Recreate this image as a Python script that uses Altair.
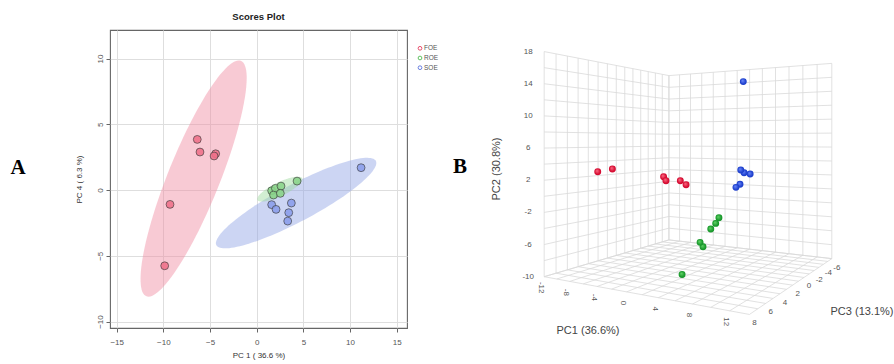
import math
import numpy as np
import pandas as pd
import altair as alt

# ---------------- data ----------------
GROUPS = ["FOE", "ROE", "SOE"]

# one entry per sample, same sample order in every list of a group
FOE_PC1 = [-6.37, -6.08, -4.40, -4.57, -9.29, -9.86]
FOE_PC4 = [3.85, 2.89, 2.76, 2.59, -1.09, -5.76]
FOE_PC2 = [1.61, 1.02, 0.31, 0.99, 3.03, 2.75]
FOE_PC3 = [-0.73, -0.81, -2.16, -1.50, 3.20, 4.35]

ROE_PC1 = [1.60, 2.00, 1.80, 2.60, 2.53, 4.32]
ROE_PC4 = [-0.05, 0.13, -0.38, 0.30, -0.25, 0.68]
ROE_PC2 = [-9.79, -7.08, -6.45, -4.26, -4.85, -3.04]
ROE_PC3 = [3.54, 1.29, 1.49, 0.13, 0.75, 1.40]

SOE_PC1 = [1.60, 2.07, 3.71, 3.43, 3.32, 11.18]
SOE_PC4 = [-1.11, -1.47, -0.99, -1.72, -2.36, 1.70]
SOE_PC2 = [-0.08, 0.37, 1.98, 2.24, 2.68, 13.33]
SOE_PC3 = [-4.04, -4.21, -4.10, -3.38, -2.95, 5.51]

A_X_TICKS = [-15, -10, -5, 0, 5, 10, 15]
A_Y_TICKS = [-10, -5, 0, 5, 10]

B_PC1_RANGE = [-12, 14]
B_PC2_RANGE = [-10, 18]
B_PC3_RANGE = [-6, 8]
B_PC1_TICKS = [-12, -8, -4, 0, 4, 8, 12]
B_PC2_TICKS = [-10, -6, -2, 2, 6, 10, 14, 18]
B_PC3_TICKS = [-6, -4, -2, 0, 2, 4, 6, 8]
B_PC1_GRID = list(range(-12, 15, 2))
B_PC2_GRID = list(range(-10, 19, 2))
B_PC3_GRID = list(range(-6, 9, 1))

# ---------------- layout / style ----------------
FONT = "Liberation Sans"
PLOT_LEFT, PLOT_TOP, PLOT_W, PLOT_H = 110, 30, 297, 298
TOTAL_W, TOTAL_H = 894, 364
A_XDOM = [-15.72, 16.1]
A_YDOM = [-10.49, 12.17]
LEG_X, LEG_Y0, LEG_DY = 420, 48.3, 9.7

PT_FILL = ["#ee7089", "#8ad48a", "#8a9deb"]
LEG_STROKE = ["#e8506e", "#62c262", "#6a80e0"]
ELL_FILL = ["#f08aa0", "#9bd99b", "#8ea2e4"]
BALL_BASE = ["#d40a30", "#17962a", "#1c3ecb"]
BALL_HI = ["#ff7088", "#66d86a", "#6f8cff"]

# 3-D view (camera) of panel B
CAM_DIST = 2.51
CAM_AZ = math.radians(59.6)
CAM_EYE_Z = 0.605
FOCAL = 524.9
CENTER_X = 698.2
HORIZON_Y = 140.5


def project(pc1, pc2, pc3):
    X = (pc1 - B_PC1_RANGE[0]) / (B_PC1_RANGE[1] - B_PC1_RANGE[0]) - 0.5
    Y = (pc3 - B_PC3_RANGE[0]) / (B_PC3_RANGE[1] - B_PC3_RANGE[0]) - 0.5
    Z = (pc2 - B_PC2_RANGE[0]) / (B_PC2_RANGE[1] - B_PC2_RANGE[0])
    c, s = math.cos(CAM_AZ), math.sin(CAM_AZ)
    lat = s * X - c * Y
    depth = CAM_DIST - c * X - s * Y
    return CENTER_X + FOCAL * lat / depth, HORIZON_Y + FOCAL * (CAM_EYE_Z - Z) / depth, depth


# ---------------- tables ----------------
series = {
    "FOE": (FOE_PC1, FOE_PC2, FOE_PC3, FOE_PC4),
    "ROE": (ROE_PC1, ROE_PC2, ROE_PC3, ROE_PC4),
    "SOE": (SOE_PC1, SOE_PC2, SOE_PC3, SOE_PC4),
}
rows = []
for g in GROUPS:
    p1, p2, p3, p4 = series[g]
    for i in range(len(p1)):
        px, py, d = project(p1[i], p2[i], p3[i])
        rows.append(dict(group=g, pc1=p1[i], pc2=p2[i], pc3=p3[i], pc4=p4[i], px=px, py=py, depth=d))
scores = pd.DataFrame(rows)

# 95% confidence ellipses computed from each group's scores
T95 = math.sqrt(-2.0 * math.log(0.05))
ell_rows = []
for g in ["FOE", "SOE", "ROE"]:
    p1, _, _, p4 = series[g]
    xy = np.array([p1, p4])
    mu = xy.mean(axis=1)
    vals, vecs = np.linalg.eigh(np.cov(xy))
    th = np.linspace(0, 2 * np.pi, 121)
    circ = np.vstack([np.cos(th), np.sin(th)])
    pts = mu[:, None] + T95 * (vecs @ (np.sqrt(vals)[:, None] * circ))
    for k in range(pts.shape[1]):
        ell_rows.append(dict(group=g, i=k, ex=pts[0, k], ey=pts[1, k]))
ellipses = pd.DataFrame(ell_rows)

# legend entries (placed in page pixels)
legend_df = pd.DataFrame([dict(group=g, px=LEG_X, py=LEG_Y0 + i * LEG_DY, tx=LEG_X + 4)
                          for i, g in enumerate(GROUPS)])

# grid of the 3-D box
lo1, hi1 = B_PC1_RANGE
lo2, hi2 = B_PC2_RANGE
lo3, hi3 = B_PC3_RANGE
segs = []
for v in B_PC3_GRID:
    segs.append(((lo1, lo2, v), (lo1, hi2, v)))
    segs.append(((lo1, lo2, v), (hi1, lo2, v)))
for v in B_PC2_GRID:
    segs.append(((lo1, v, lo3), (lo1, v, hi3)))
    segs.append(((lo1, v, lo3), (hi1, v, lo3)))
for v in B_PC1_GRID:
    segs.append(((v, lo2, lo3), (v, hi2, lo3)))
    segs.append(((v, lo2, lo3), (v, lo2, hi3)))
seg_rows = []
for a, b in segs:
    x1, y1, _ = project(*a)
    x2, y2, _ = project(*b)
    seg_rows.append(dict(x1=x1, y1=y1, x2=x2, y2=y2))
grid = pd.DataFrame(seg_rows)

lab2, lab1, lab3 = [], [], []
for v in B_PC2_TICKS:
    x, y, _ = project(lo1, v, hi3)
    lab2.append(dict(px=x - 16, py=y, t=str(v)))
for v in B_PC1_TICKS:
    x, y, _ = project(v, lo2, hi3)
    lab1.append(dict(px=x - 3.5, py=y + 11, t=str(v)))
for v in B_PC3_TICKS:
    x, y, _ = project(hi1, lo2, v)
    lab3.append(dict(px=x + 5, py=y + 9, t=str(v)))

# ---------------- panel A ----------------
sx = alt.Scale(domain=A_XDOM, nice=False, zero=False)
sy = alt.Scale(domain=A_YDOM, nice=False, zero=False)
ax_x = alt.Axis(values=A_X_TICKS, title="PC 1 ( 36.6 %)", grid=True, gridColor="#dedede",
                domain=False, tickColor="#666", tickSize=4, labelFontSize=8, labelColor="#555",
                labelPadding=6, labelFlush=False, titleFontSize=8, titleFontWeight="normal",
                titleColor="#333", titlePadding=5, labelFont=FONT, titleFont=FONT)
ax_y = alt.Axis(values=A_Y_TICKS, title="PC 4 ( 6.3 %)", grid=True, gridColor="#dedede",
                domain=False, tickColor="#666", tickSize=4, labelFontSize=8, labelColor="#555",
                labelAngle=270, labelAlign="center", labelBaseline="bottom", labelPadding=2,
                labelFlush=False, titleFontSize=8, titleFontWeight="normal", titleColor="#333",
                titlePadding=13, labelFont=FONT, titleFont=FONT)

ell = alt.Chart(ellipses).mark_line(filled=True, opacity=0.45).encode(
    x=alt.X("ex:Q", scale=sx, axis=ax_x),
    y=alt.Y("ey:Q", scale=sy, axis=ax_y),
    color=alt.Color("group:N", scale=alt.Scale(domain=GROUPS, range=ELL_FILL), legend=None),
    order="i:Q",
)
pts = alt.Chart(scores).mark_circle(size=62, opacity=1, fillOpacity=0.88, stroke="#3a3a3a",
                                     strokeWidth=0.65).encode(
    x=alt.X("pc1:Q", scale=sx, axis=ax_x),
    y=alt.Y("pc4:Q", scale=sy, axis=ax_y),
    fill=alt.Fill("group:N", scale=alt.Scale(domain=GROUPS, range=PT_FILL), legend=None),
)
panel_a = alt.layer(ell, pts)

# ---------------- panel B and annotations (page-pixel scales) ----------------
px_s = alt.Scale(domain=[PLOT_LEFT, PLOT_LEFT + PLOT_W], nice=False, zero=False)
py_s = alt.Scale(domain=[PLOT_TOP + PLOT_H, PLOT_TOP], nice=False, zero=False)
bx = alt.X("px:Q", scale=px_s, axis=None)
by = alt.Y("py:Q", scale=py_s, axis=None)

leg_sym = alt.Chart(legend_df).mark_point(filled=False, size=14, opacity=1, strokeWidth=1).encode(
    x=bx, y=by,
    stroke=alt.Stroke("group:N", scale=alt.Scale(domain=GROUPS, range=LEG_STROKE), legend=None))
leg_txt = alt.Chart(legend_df).mark_text(fontSize=6.5, color="#555", font=FONT, align="left",
                                          baseline="middle").encode(
    x=alt.X("tx:Q", scale=px_s, axis=None), y=by, text="group:N")

grid_l = alt.Chart(grid).mark_rule(color="#d9d9d9", strokeWidth=0.8).encode(
    x=alt.X("x1:Q", scale=px_s, axis=None), y=alt.Y("y1:Q", scale=py_s, axis=None),
    x2="x2:Q", y2="y2:Q")

balls = []
for gi, g in enumerate(GROUPS):
    grad = alt.RadialGradient(
        gradient="radial",
        stops=[alt.GradientStop(color=BALL_HI[gi], offset=0),
               alt.GradientStop(color=BALL_BASE[gi], offset=0.75),
               alt.GradientStop(color=BALL_BASE[gi], offset=1)],
        x1=0.38, y1=0.35, r1=0, x2=0.5, y2=0.5, r2=0.55)
    dfg = scores[scores.group == g].sort_values("depth", ascending=False)
    balls.append(alt.Chart(dfg).mark_circle(size=48, opacity=1, fill=grad).encode(x=bx, y=by))

t2 = alt.Chart(pd.DataFrame(lab2)).mark_text(fontSize=8, color="#555", font=FONT,
                                            align="center", baseline="middle").encode(x=bx, y=by, text="t:N")
t1 = alt.Chart(pd.DataFrame(lab1)).mark_text(fontSize=8, color="#555", font=FONT, angle=90,
                                            align="center", baseline="middle").encode(x=bx, y=by, text="t:N")
t3 = alt.Chart(pd.DataFrame(lab3)).mark_text(fontSize=8, color="#555", font=FONT,
                                            align="center", baseline="middle").encode(x=bx, y=by, text="t:N")


def label(txt, x, y, **kw):
    return alt.Chart(pd.DataFrame({"t": [txt]})).mark_text(**kw).encode(
        x=alt.value(x - PLOT_LEFT), y=alt.value(y - PLOT_TOP), text="t:N")


titles_b = [
    label("PC1 (36.6%)", 588, 331, fontSize=11, color="#444", font=FONT),
    label("PC3 (13.1%)", 862, 311.5, fontSize=11, color="#444", font=FONT),
    label("PC2 (30.8%)", 497, 169, fontSize=11, color="#444", font=FONT, angle=270),
    label("A", 18, 168, fontSize=21, fontWeight="bold", color="#000", font="Liberation Serif"),
    label("B", 460, 167, fontSize=21, fontWeight="bold", color="#000", font="Liberation Serif"),
]

panel_b = alt.layer(leg_sym, leg_txt, grid_l, *balls, t2, t1, t3, *titles_b)

chart = alt.layer(panel_a, panel_b).resolve_scale(x="independent", y="independent").properties(
    width=PLOT_W, height=PLOT_H,
    autosize=alt.AutoSizeParams(type="none"),
    padding={"left": PLOT_LEFT, "top": PLOT_TOP,
             "right": TOTAL_W - PLOT_LEFT - PLOT_W, "bottom": TOTAL_H - PLOT_TOP - PLOT_H},
    title=alt.TitleParams("Scores Plot", fontSize=9.5, fontWeight="bold", font=FONT,
                          color="#222", anchor="middle", offset=9),
).configure(font=FONT).configure_view(stroke="#666", strokeWidth=1.1)

chart.save("out.html", embed_options={"renderer": "svg", "actions": False})
